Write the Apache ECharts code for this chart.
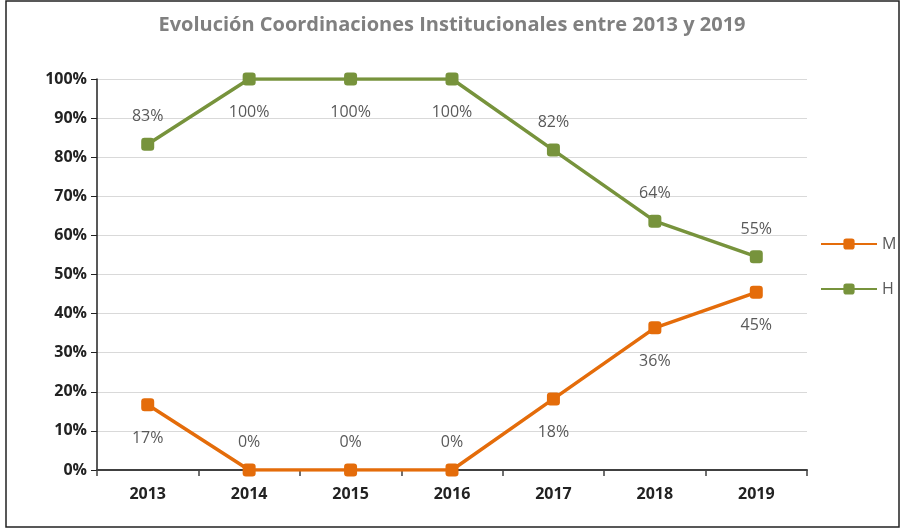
<!DOCTYPE html>
<html lang="es">
<head>
    <meta charset="UTF-8">
    <title>Evolución Coordinaciones Institucionales</title>
    <script src="https://cdn.jsdelivr.net/npm/echarts@6/dist/echarts.min.js"></script>
    <style>
        body { margin: 0; background: #fff; }
    </style>
</head>
<body>
<div id="main" style="width: 904px;height:530px;"></div>
<script type="text/javascript">
    var years = ['2013', '2014', '2015', '2016', '2017', '2018', '2019'];
    var mujeres = [16.67, 0, 0, 0, 18.18, 36.36, 45.45];
    var hombres = [83.33, 100, 100, 100, 81.82, 63.64, 54.55];
    var yTicks = [0, 10, 20, 30, 40, 50, 60, 70, 80, 90, 100];

    var chartDom = document.getElementById('main');
    var myChart = echarts.init(chartDom);
    var option;

    // label below the point at the edges of the scale, otherwise on the other side
    function buildData(values, atEdge, normalPos, edgePos) {
        var out = [];
        for (var i = 0; i < values.length; i++) {
            var pos = values[i] === atEdge ? edgePos : normalPos;
            out.push({
                value: values[i],
                label: { position: pos, distance: pos === 'top' ? 13 : 19 }
            });
        }
        return out;
    }

    var labelStyle = {
        show: true,
        color: '#595959',
        fontSize: 16,
        fontFamily: 'Open Sans',
        formatter: function (p) { return Math.round(p.value) + '%'; }
    };

    option = {
        title: {
            text: 'Evolución Coordinaciones Institucionales entre 2013 y 2019',
            left: 'center',
            top: 10,
            textStyle: {
                color: '#808080',
                fontSize: 20,
                fontWeight: 'bold',
                fontFamily: 'Open Sans'
            }
        },
        graphic: [{
            type: 'rect',
            shape: { x: 6, y: 1, width: 893, height: 526 },
            style: { fill: 'none', stroke: '#222', lineWidth: 1.5 },
            silent: true
        }],
        legend: {
            orient: 'vertical',
            left: 815,
            top: 231,
            itemWidth: 56,
            itemHeight: 14,
            itemGap: 29,
            textStyle: { color: '#595959', fontSize: 16, fontFamily: 'Open Sans' },
            data: ['M', 'H']
        },
        grid: {
            left: 97,
            right: 97,
            top: 79,
            bottom: 60
        },
        xAxis: {
            type: 'category',
            data: years,
            boundaryGap: true,
            axisLine: { lineStyle: { color: '#404040', width: 2 } },
            axisTick: { show: true, interval: 0, length: 6, lineStyle: { color: '#404040', width: 1.5 } },
            axisLabel: {
                color: '#222',
                fontSize: 16,
                fontWeight: 'bold',
                fontFamily: 'Open Sans',
                margin: 16
            }
        },
        yAxis: {
            type: 'value',
            min: 0,
            max: 100,
            interval: 10,
            axisLine: { show: true, lineStyle: { color: '#222', width: 1.5 } },
            axisTick: { show: true, length: 6, lineStyle: { color: '#222' } },
            splitLine: { lineStyle: { color: '#d9d9d9' } },
            axisLabel: {
                color: '#222',
                fontSize: 16,
                fontWeight: 'bold',
                fontFamily: 'Open Sans',
                margin: 10,
                formatter: function (v) {
                    return yTicks.indexOf(v) >= 0 ? v + '%' : '';
                }
            }
        },
        series: [
            {
                name: 'M',
                type: 'line',
                data: buildData(mujeres, 0, 'bottom', 'top'),
                symbol: 'roundRect',
                symbolSize: 13,
                lineStyle: { width: 3.5, color: '#E46C0A' },
                itemStyle: { color: '#E46C0A' },
                label: labelStyle
            },
            {
                name: 'H',
                type: 'line',
                data: buildData(hombres, 100, 'top', 'bottom'),
                symbol: 'roundRect',
                symbolSize: 13,
                lineStyle: { width: 3.5, color: '#77933C' },
                itemStyle: { color: '#77933C' },
                label: labelStyle
            }
        ]
    };

    option && myChart.setOption(option);
</script>
</body>
</html>
